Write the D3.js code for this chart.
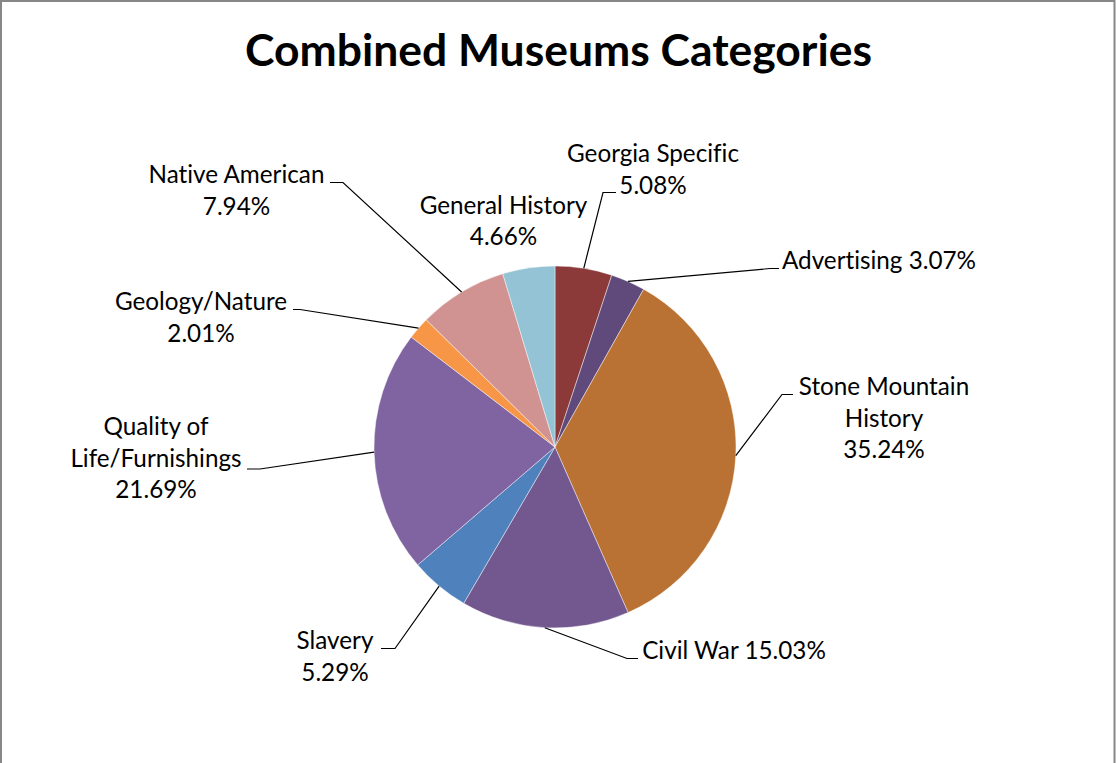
<!DOCTYPE html>
<html>
<head>
<meta charset="utf-8">
<script src="https://cdn.jsdelivr.net/npm/d3@7/dist/d3.min.js"></script>
<style>
  html, body { margin: 0; padding: 0; background: #fff; }
  svg { display: block; }
  text {
    font-family: Lato, "Open Sans", sans-serif;
    fill: #000;
    font-variant-ligatures: none;
    font-feature-settings: "liga" 0, "clig" 0, "dlig" 0;
  }
</style>
</head>
<body>
<svg id="chart" width="1116" height="763"></svg>
<script>
// Share of museum content by category (percent), clockwise from 12 o'clock
const categories = [
  "Georgia Specific", "Advertising", "Stone Mountain History", "Civil War",
  "Slavery", "Quality of Life/Furnishings", "Geology/Nature", "Native American",
  "General History"
];
const values = [5.08, 3.07, 35.24, 15.03, 5.29, 21.69, 2.01, 7.94, 4.66];
const colors = [
  "#8B3A39", "#604A7B", "#B97233", "#735890",
  "#4F81BD", "#8064A2", "#F79646", "#D09392", "#93C3D5"
];
const title = "Combined Museums Categories";

// How each category's label breaks across lines
const labelLines = [
  ["Georgia Specific"],
  ["Advertising"],
  ["Stone Mountain", "History"],
  ["Civil War"],
  ["Slavery"],
  ["Quality of", "Life/Furnishings"],
  ["Geology/Nature"],
  ["Native American"],
  ["General History"]
];
// whether the percentage sits on the same line as the name
const inlineValue = [false, true, false, true, false, false, false, false, false];

// Label placement: text centre x, first baseline y, leader elbow and end (null = no leader)
const labelLayout = [
  { x: 653,   y: 162,   elbow: [603, 192.5], end: [616, 192.5] },
  { x: 879,   y: 269,   elbow: [770, 268.5], end: [779, 268.5] },
  { x: 884,   y: 395,   elbow: [782, 394.5], end: [793, 394.5] },
  { x: 734,   y: 659,   elbow: [627, 658.5], end: [638, 658.5] },
  { x: 335,   y: 649,   elbow: [395, 648.5], end: [381, 648.5] },
  { x: 156,   y: 435,   elbow: [260, 469],   end: [247, 469] },
  { x: 201,   y: 310,   elbow: [300, 309.5], end: [293, 309.5] },
  { x: 236.5, y: 183,   elbow: [343, 182.5], end: [330, 182.5] },
  { x: 503.5, y: 213.5, elbow: null,         end: null }
];

const svg = d3.select("#chart");
const W = 1116;
const cx = 555, cy = 447, R = 181;
const lineH = 31.5;

// chart border
svg.append("rect")
  .attr("x", 1).attr("y", 1)
  .attr("width", W - 2.5).attr("height", 820)
  .attr("fill", "#fff")
  .attr("stroke", "#878787").attr("stroke-width", 2);

// fit a font size so a string reaches a given width
function fitSize(str, weight, targetWidth) {
  const t = svg.append("text").attr("font-size", 100).attr("font-weight", weight).text(str);
  const w = t.node().getComputedTextLength();
  t.remove();
  return 100 * targetWidth / w;
}
const titleSize = fitSize(title, "bold", 627);
const labelSize = fitSize("Georgia Specific", "normal", 172);

// title
svg.append("text")
  .attr("x", 558.5).attr("y", 66)
  .attr("text-anchor", "middle")
  .attr("font-weight", "bold")
  .attr("font-size", titleSize)
  .text(title);

// pie
const data = categories.map((c, i) => ({ name: c, value: values[i], color: colors[i], i }));
const pie = d3.pie().sort(null).value(d => d.value).startAngle(0).endAngle(2 * Math.PI);
const arcs = pie(data);
const arc = d3.arc().innerRadius(0).outerRadius(R);

const g = svg.append("g").attr("transform", `translate(${cx},${cy})`);
g.selectAll("path.slice")
  .data(arcs)
  .join("path")
  .attr("class", "slice")
  .attr("d", arc)
  .attr("fill", d => d.data.color)
  .attr("stroke", "#ffffff")
  .attr("stroke-opacity", 0.55)
  .attr("stroke-width", 0.8);

// leader lines from slice mid-angle on the rim
const fmt = v => v.toFixed(2) + "%";
arcs.forEach(a => {
  const L = labelLayout[a.data.i];
  if (!L.elbow) return;
  const mid = (a.startAngle + a.endAngle) / 2;
  const sx = cx + R * Math.sin(mid), sy = cy - R * Math.cos(mid);
  svg.append("path")
    .attr("d", d3.line()([[sx, sy], L.elbow, L.end]))
    .attr("fill", "none")
    .attr("stroke", "#000")
    .attr("stroke-width", 1.2);
});

// labels
data.forEach(d => {
  const L = labelLayout[d.i];
  let lines = labelLines[d.i].slice();
  if (inlineValue[d.i]) {
    lines[lines.length - 1] += " " + fmt(d.value);
  } else {
    lines.push(fmt(d.value));
  }
  const t = svg.append("text")
    .attr("text-anchor", "middle")
    .attr("font-size", labelSize);
  lines.forEach((ln, k) => {
    t.append("tspan").attr("x", L.x).attr("y", L.y + k * lineH).text(ln);
  });
});
</script>
</body>
</html>
